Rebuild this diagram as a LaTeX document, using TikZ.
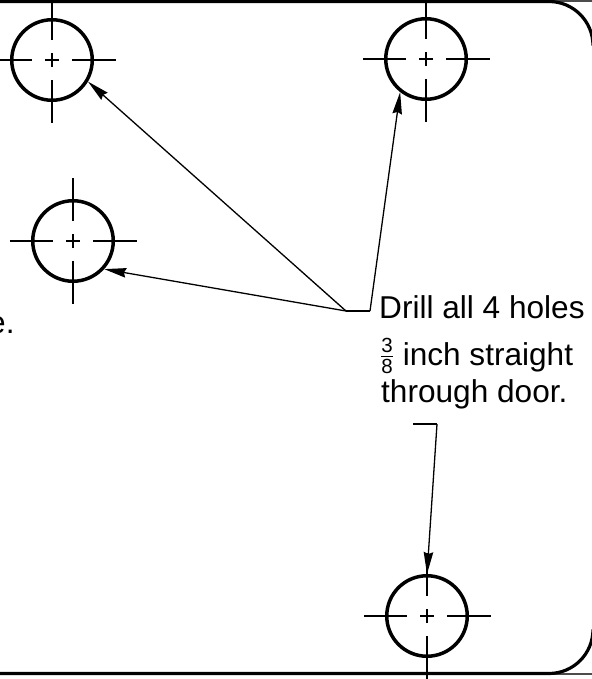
\documentclass[tikz,border=0pt]{standalone}
\usepackage{fontspec}
\setmainfont{Liberation Sans}
\usetikzlibrary{arrows.meta}
\tikzset{
  hole/.style={draw=black,line width=3.5bp,circle,minimum size=80.5bp,inner sep=0pt},
  cline/.style={draw=black,line width=1.3bp},
  leader/.style={draw=black,line width=1.3bp},
  tip/.style={-{Stealth[length=22bp,width=9.5bp,inset=2bp]}},
  lab/.style={inner sep=0pt,anchor=base west,font=\fontsize{31.6bp}{36bp}\selectfont},
}
\newcommand{\centermark}[2]{%
  \coordinate (#1) at (#2);
  \draw[cline] ([xshift=-63bp]#1) -- ([xshift=-20bp]#1);
  \draw[cline] ([xshift=-7bp]#1) -- ([xshift=7bp]#1);
  \draw[cline] ([xshift=20bp]#1) -- ([xshift=64bp]#1);
  \draw[cline] ([yshift=63bp]#1) -- ([yshift=20bp]#1);
  \draw[cline] ([yshift=7bp]#1) -- ([yshift=-7bp]#1);
  \draw[cline] ([yshift=-20bp]#1) -- ([yshift=-63bp]#1);
}
\newcommand{\smallfrac}{\raisebox{2.5bp}{$\frac{\hbox{\fontsize{20.5bp}{20bp}\selectfont 3\rule[-2bp]{0pt}{1bp}}}{\hbox{\fontsize{20.5bp}{20bp}\selectfont\rule{0pt}{17bp}8}}$}}
\begin{document}
\begin{tikzpicture}[x=1bp,y=-1bp]
\useasboundingbox (0,0) rectangle (592,679);
\fill[white] (0,0) rectangle (592,679);
\begin{scope}
\clip (0,0) rectangle (592,679);
% door outline
\draw[line width=1.2bp,black!70] (0,1) -- (592,1);
\draw[line width=1.2bp,black!70] (0,674) -- (592,674);
\draw[line width=3.2bp] (-2,1.5) -- (549,1.5) arc[start angle=-90,end angle=0,radius=44];
\draw[line width=3.2bp] (-2,673.5) -- (549,673.5) arc[start angle=90,end angle=0,radius=44];
% holes
\centermark{ca}{52,60}
\centermark{cb}{426,59}
\centermark{cc}{73,241}
\centermark{cd}{427,616}
\node[hole] (ha) at (ca) {};
\node[hole] (hb) at (cb) {};
\node[hole] (hc) at (cc) {};
\node[hole] (hd) at (cd) {};
% text
\node[lab] (t1) at (379,318) {Drill all 4 holes};
\node[lab] (t2) at (380,365) {\smallfrac{} inch straight};
\node[lab] (t3) at (381,402) {through door.};
\node[lab] (t4) at (-12,333) {e.};
% leaders
\coordinate (k1) at (370,311);
\coordinate (k0) at (346,311);
\coordinate (k2) at (437,424);
\coordinate (k3) at (413,424);
\draw[leader] (k0) -- (k1);
\draw[leader,tip] (k0) -- (ha.-31);
\draw[leader,tip] (k0) -- (hc.-42);
\draw[leader,tip] (k1) -- (hb.-128);
\draw[leader] (k3) -- (k2);
\draw[leader,tip] (k2) -- (hd.north);
\end{scope}
\end{tikzpicture}
\end{document}
